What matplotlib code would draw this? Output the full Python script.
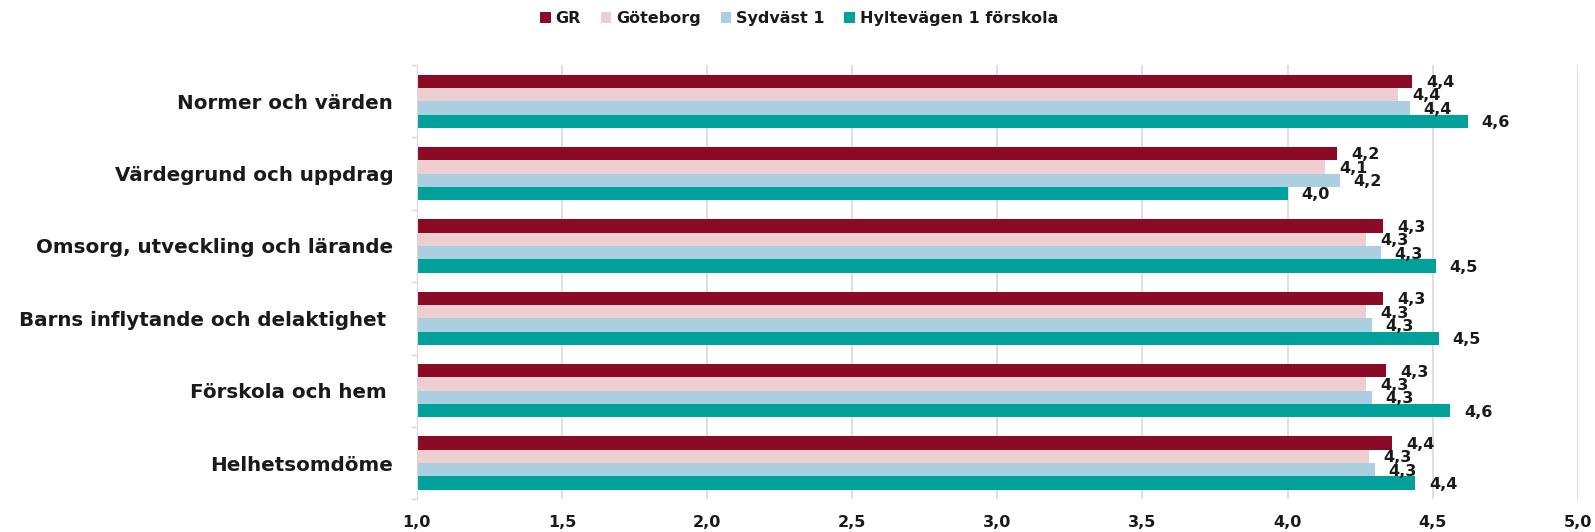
import numpy as np
import matplotlib
matplotlib.use("Agg")
from matplotlib import pyplot as plt

## categories (top to bottom) and the four series
categories = ["Normer och värden", "Värdegrund och uppdrag",
              "Omsorg, utveckling och lärande", "Barns inflytande och delaktighet ",
              "Förskola och hem ", "Helhetsomdöme"]
series_names = ["GR", "Göteborg", "Sydväst 1", "Hyltevägen 1 förskola"]
gr = [4.43, 4.17, 4.33, 4.33, 4.34, 4.36]
goteborg = [4.38, 4.13, 4.27, 4.27, 4.27, 4.28]
sydvast = [4.42, 4.18, 4.32, 4.29, 4.29, 4.30]
hyltevagen = [4.62, 4.00, 4.51, 4.52, 4.56, 4.44]
x_ticks = [1.0, 1.5, 2.0, 2.5, 3.0, 3.5, 4.0, 4.5, 5.0]

colors = ["#8B0A25", "#EDCFD1", "#A9CFE0", "#00A19A"]
txt = "#1a1a1a"

plt.rcParams["font.family"] = ["DejaVu Sans"]

fig = plt.figure(figsize=(15.95, 5.32), dpi=100)
ax = fig.add_axes([0.2613, 0.0615, 0.9893 - 0.2613, 0.8778 - 0.0615])

y = np.arange(len(categories))
h = 0.184
all_series = [gr, goteborg, sydvast, hyltevagen]
for i, (vals, name, c) in enumerate(zip(all_series, series_names, colors)):
    pos = y + (i - 1.5) * h
    left = 1.0
    ax.barh(pos, np.array(vals) - left, left=left, height=h, color=c,
            label=name, zorder=2)
    for p, v in zip(pos, vals):
        ax.annotate(f"{v:.1f}".replace(".", ","), (v, p), xytext=(10, -1),
                    textcoords="offset points", va="center", ha="left",
                    fontsize=11.5, fontweight="bold", color=txt, zorder=3)

ax.set_xlim(1.0, 5.0)
ax.set_ylim(len(categories) - 0.5, -0.5)
ax.set_xticks(x_ticks)
ax.set_xticklabels([f"{t:.1f}".replace(".", ",") for t in x_ticks],
                   fontsize=11.5, fontweight="bold", color=txt)
ax.set_yticks(y)
ax.set_yticklabels(categories, fontsize=14.3, fontweight="bold", color=txt)
ax.set_yticks(np.arange(len(categories) + 1) - 0.5, minor=True)
ax.tick_params(axis="y", which="major", length=0, pad=17)
ax.tick_params(axis="y", which="minor", length=4, color="#D9D9D9", width=1)
ax.tick_params(axis="x", length=0, pad=11)
ax.grid(axis="x", color="#D9D9D9", linewidth=1.2, zorder=0)
for s in ["top", "right", "bottom"]:
    ax.spines[s].set_visible(False)
ax.spines["left"].set_color("#D9D9D9")

fig.legend(loc="center", bbox_to_anchor=(0.501, 0.965), ncol=4, frameon=False,
           prop={"size": 11.5, "weight": "bold"}, handlelength=0.65,
           handleheight=0.65, handletextpad=0.3, columnspacing=1.25,
           labelcolor=txt)

fig.savefig("out.png", dpi=100)
